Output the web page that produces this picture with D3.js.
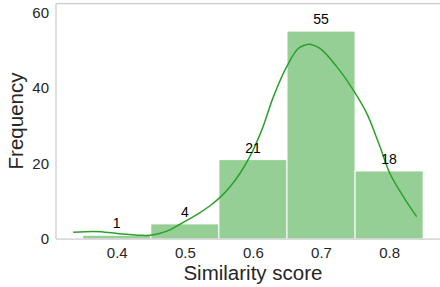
<!DOCTYPE html>
<html><head><meta charset="utf-8">
<script src="https://cdn.jsdelivr.net/npm/d3@7"></script>
<style>body{margin:0;background:#fff}svg{display:block}text{font-family:"Liberation Sans",Arial,sans-serif}</style>
</head><body><svg id="c" width="440" height="287"></svg>
<script>
const binStarts = [0.35, 0.45, 0.55, 0.65, 0.75];
const binWidth = 0.1;
const counts = [1, 4, 21, 55, 18];
const kdeX = [0.336,0.3656,0.380,0.4146,0.434,0.449,0.4640,0.4782,0.4929,0.5076,0.5223,0.5370,0.5518,0.5664,0.5811,0.5958,0.6129,0.630,0.6496,0.6666,0.6813,0.6838,0.6985,0.723,0.7474,0.767,0.7866,0.801,0.8208,0.8404];
const kdeY = [1.8,2.0,1.85,1.24,0.98,0.98,1.5,2.4,3.9,5.4,7.0,8.8,11.0,13.8,17.4,21.9,28.8,37.6,45.6,50.4,51.5,51.5,50.4,45.6,39.4,33.3,24.4,17.4,11.2,5.9];
const xTicks = [0.4, 0.5, 0.6, 0.7, 0.8];
const yTicks = [0, 20, 40, 60];

const svg = d3.select("#c");
const x = d3.scaleLinear().domain([0.3108, 0.8747]).range([56, 440]);
const y = d3.scaleLinear().domain([0, 62.3]).range([239, 3.5]);

// bars
svg.append("g").selectAll("rect").data(binStarts).join("rect")
  .attr("x", d => x(d)).attr("width", d => x(d + binWidth) - x(d))
  .attr("y", (d,i) => y(counts[i])).attr("height", (d,i) => y(0) - y(counts[i]))
  .attr("fill", "#95cf95").attr("stroke", "#fff").attr("stroke-width", 1);

// kde
const line = d3.line().x(d => x(d[0])).y(d => y(d[1])).curve(d3.curveCatmullRom.alpha(0.5));
svg.append("path").datum(kdeX.map((v,i) => [v, kdeY[i]]))
  .attr("d", line).attr("fill", "none").attr("stroke", "#2ca02c").attr("stroke-width", 1.5);

// count labels
svg.append("g").selectAll("text").data(binStarts).join("text")
  .attr("x", d => x(d + binWidth/2)).attr("y", (d,i) => y(counts[i]) - 7)
  .attr("text-anchor", "middle").attr("font-size", 14).attr("fill", "#000")
  .text((d,i) => counts[i]);

// spines
const sp = svg.append("g").attr("stroke", "#cccccc").attr("stroke-width", 1.25);
sp.append("line").attr("x1", 56).attr("x2", 56).attr("y1", 3.5).attr("y2", 239);
sp.append("line").attr("x1", 56).attr("x2", 440).attr("y1", 239).attr("y2", 239);
sp.append("line").attr("x1", 56).attr("x2", 440).attr("y1", 3.5).attr("y2", 3.5);

// axes
const xa = svg.append("g").attr("transform", "translate(0,239)")
  .call(d3.axisBottom(x).tickValues(xTicks).tickFormat(d3.format(".1f")).tickSize(0).tickPadding(8));
const ya = svg.append("g").attr("transform", "translate(56,0)")
  .call(d3.axisLeft(y).tickValues(yTicks).tickSize(0).tickPadding(7));
[xa, ya].forEach(a => {
  a.select(".domain").remove();
  a.selectAll("text").attr("font-size", 15).attr("fill", "#262626").attr("font-family", "Liberation Sans, Arial, sans-serif");
});

svg.append("text").attr("x", x(0.6)).attr("y", 280).attr("text-anchor", "middle")
  .attr("font-size", 20.5).attr("fill", "#262626").text("Similarity score");
svg.append("text").attr("transform", "translate(22.5,121) rotate(-90)").attr("text-anchor", "middle")
  .attr("font-size", 20.5).attr("fill", "#262626").text("Frequency");
</script></body></html>
